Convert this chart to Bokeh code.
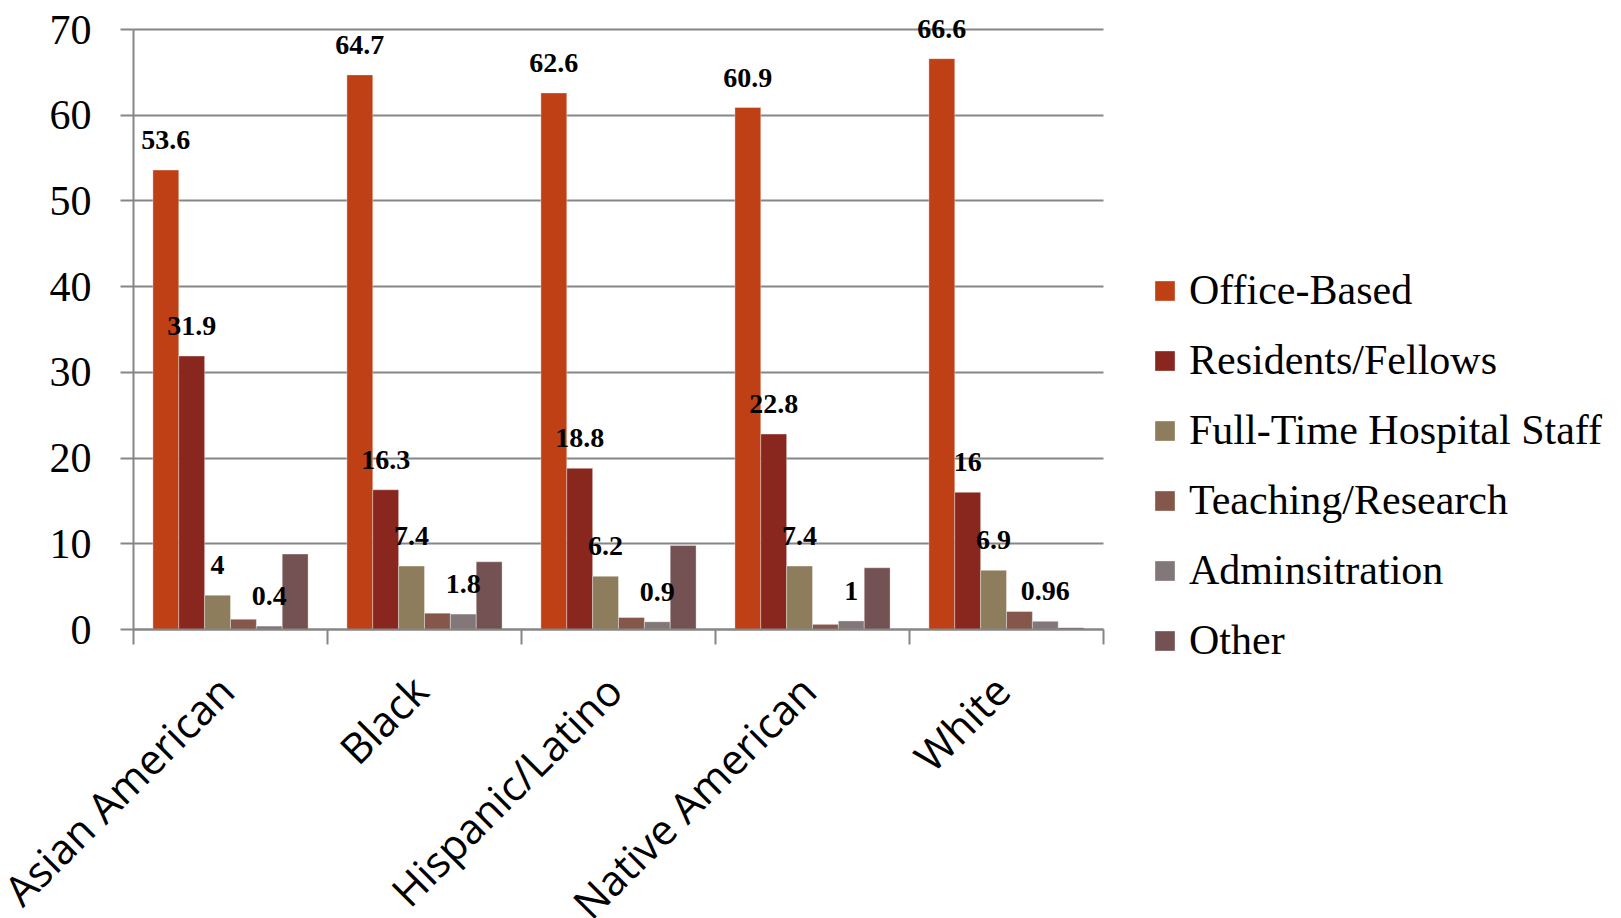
import math
from bokeh.plotting import figure
from bokeh.models import ColumnDataSource, Range1d, FixedTicker, LabelSet, Legend, LegendItem
from bokeh.transform import dodge
from bokeh.core.properties import value
from bokeh.embed import file_html
from bokeh.resources import INLINE

# ---------------- data ----------------
categories = ["Asian American", "Black", "Hispanic/Latino", "Native American", "White"]
series_names = ["Office-Based", "Residents/Fellows", "Full-Time Hospital Staff",
                "Teaching/Research", "Adminsitration", "Other"]
office_based = [53.6, 64.7, 62.6, 60.9, 66.6]
residents_fellows = [31.9, 16.3, 18.8, 22.8, 16]
full_time_hospital = [4, 7.4, 6.2, 7.4, 6.9]
teaching_research = [1.2, 1.9, 1.4, 0.6, 2.1]
administration = [0.4, 1.8, 0.9, 1, 0.96]
other = [8.8, 7.9, 9.8, 7.2, 0.2]
y_ticks = [0, 10, 20, 30, 40, 50, 60, 70]

series_values = [office_based, residents_fellows, full_time_hospital,
                 teaching_research, administration, other]
series_keys = ["s0", "s1", "s2", "s3", "s4", "s5"]
colors = ["#BE4014", "#89261E", "#8D7D5D", "#84574A", "#837879", "#745152"]
show_labels = [True, True, True, False, True, False]

# ---------------- source ----------------
ncat = len(categories)
centers = [i + 0.5 for i in range(ncat)]
data = {"xc": centers, "cat": categories}
for key, vals in zip(series_keys, series_values):
    data[key] = vals
    data[key + "_lbl"] = [f"{v:g}" for v in vals]
src = ColumnDataSource(data)

# ---------------- layout (pixels) ----------------
W, H = 1605, 918
PLOT_L, PLOT_R = 133, 1103      # x = 0 .. ncat
PLOT_T, PLOT_B = 29, 629        # y = 70 .. 0
ymax = y_ticks[-1]
px_x = (PLOT_R - PLOT_L) / ncat
px_y = (PLOT_B - PLOT_T) / ymax
x_range = Range1d(-PLOT_L / px_x, ncat + (W - PLOT_R) / px_x)
y_range = Range1d(-(H - PLOT_B) / px_y, ymax + PLOT_T / px_y)

p = figure(width=W, height=H, x_range=x_range, y_range=y_range,
           output_backend="svg", toolbar_location=None,
           min_border_left=0, min_border_right=0, min_border_top=0, min_border_bottom=0)
p.outline_line_color = None
p.background_fill_color = "white"
p.border_fill_color = "white"

GRAY = "#868686"
p.xgrid.visible = False
p.ygrid.grid_line_color = GRAY
p.ygrid.grid_line_width = 2
p.ygrid.ticker = FixedTicker(ticks=y_ticks)
p.ygrid.cross_bounds = (0, ncat)

ya = p.yaxis[0]
ya.fixed_location = 0
ya.ticker = FixedTicker(ticks=y_ticks)
ya.bounds = (0, ymax)
ya.axis_line_color = GRAY
ya.axis_line_width = 2
ya.major_tick_line_color = GRAY
ya.major_tick_line_width = 2
ya.major_tick_out = 13
ya.major_tick_in = 0
ya.minor_tick_line_color = None
ya.major_label_text_font = "Liberation Serif"
ya.major_label_text_font_size = "42px"
ya.major_label_text_color = "black"
ya.major_label_standoff = 29

xa = p.xaxis[0]
xa.fixed_location = 0
xa.ticker = FixedTicker(ticks=[], minor_ticks=list(range(ncat + 1)))
xa.bounds = (0, ncat)
xa.axis_line_color = GRAY
xa.axis_line_width = 2
xa.major_tick_line_color = None
xa.minor_tick_line_color = GRAY
xa.minor_tick_line_width = 2
xa.minor_tick_out = 15
xa.minor_tick_in = 0
xa.major_label_text_font_size = "0px"

# ---------------- bars ----------------
n = len(series_keys)
group = 0.8
bw = group / n
items = []
for j, key in enumerate(series_keys):
    off = -group / 2 + (j + 0.5) * bw
    r = p.vbar(x=dodge("xc", off, range=p.x_range), top=key, width=bw, bottom=0,
               source=src, fill_color=colors[j], line_color="white", line_alpha=0.35,
               line_width=1)
    items.append(LegendItem(label=series_names[j], renderers=[r]))
    if show_labels[j]:
        ls = LabelSet(x=dodge("xc", off, range=p.x_range), y=key, text=key + "_lbl",
                      source=src, text_align="center", text_baseline="middle",
                      y_offset=30, text_font=value("Liberation Serif"),
                      text_font_style="bold", text_font_size="28px", text_color="black")
        p.add_layout(ls)

# ---------------- category labels ----------------
cl = LabelSet(x="xc", y=0, text="cat", source=src, angle=math.pi / 4,
              text_align="right", text_baseline="middle", x_offset=-5, y_offset=-53,
              text_font=value("Open Sans"), text_font_size="42px", text_color="black")
p.add_layout(cl)

# ---------------- legend ----------------
legend = Legend(items=items, location=(1152, 254), orientation="vertical",
                glyph_width=25, glyph_height=25, label_standoff=12, spacing=22,
                padding=0, margin=0, border_line_color=None, background_fill_alpha=0,
                label_text_font="Liberation Serif", label_text_font_size="42px",
                label_text_color="black")
p.add_layout(legend)

open("out.html", "w").write(file_html(p, INLINE))
